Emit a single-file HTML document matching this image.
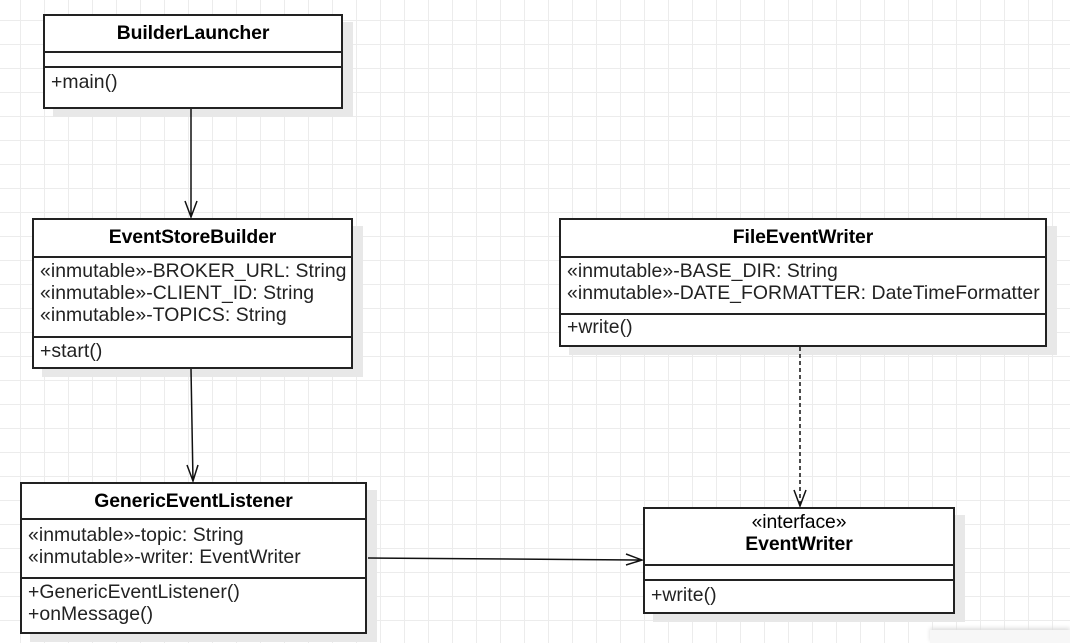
<!DOCTYPE html>
<html><head><style>
body{margin:0;width:1070px;height:643px;overflow:hidden;background:#fff;
background-image:linear-gradient(#ececec 1px,transparent 1px),linear-gradient(90deg,#ececec 1px,transparent 1px);
background-size:24px 24px;background-position:-4px -4px;font-family:"Liberation Sans",sans-serif;position:relative}
.b{position:absolute;border:2px solid #222;background:#fff;box-shadow:10px 8px 0 #e8e8e8;box-sizing:border-box}
.h{border-bottom:2px solid #222;text-align:center;font-weight:bold;font-size:19.4px;box-sizing:border-box;letter-spacing:-0.1px}
.s{border-bottom:2px solid #222;box-sizing:border-box;font-size:19.4px;padding-left:6px;line-height:22px;color:#222;letter-spacing:0.05px;white-space:nowrap}
.m{font-size:19.4px;padding-left:6px;line-height:22px;color:#222;letter-spacing:0.05px}
svg{position:absolute;left:0;top:0}
</style></head><body>
<div class="b" style="left:43px;top:14px;width:300px;height:95px">
<div class="h" style="height:37px;line-height:35px">BuilderLauncher</div>
<div class="s" style="height:15px"></div>
<div class="m" style="padding-top:3px">+main()</div></div>

<div class="b" style="left:32px;top:218px;width:321px;height:151px">
<div class="h" style="height:38px;line-height:35px">EventStoreBuilder</div>
<div class="s" style="height:80px;padding-top:2px">«inmutable»-BROKER_URL: String<br>«inmutable»-CLIENT_ID: String<br>«inmutable»-TOPICS: String</div>
<div class="m" style="padding-top:2px">+start()</div></div>

<div class="b" style="left:559px;top:218px;width:488px;height:129px">
<div class="h" style="height:38px;line-height:35px">FileEventWriter</div>
<div class="s" style="height:57px;padding-top:2px">«inmutable»-BASE_DIR: String<br>«inmutable»-DATE_FORMATTER: DateTimeFormatter</div>
<div class="m" style="padding-top:1px">+write()</div></div>

<div class="b" style="left:20px;top:482px;width:347px;height:152px">
<div class="h" style="height:36px;line-height:35px">GenericEventListener</div>
<div class="s" style="height:59px;padding-top:4px">«inmutable»-topic: String<br>«inmutable»-writer: EventWriter</div>
<div class="m" style="padding-top:2px">+GenericEventListener()<br>+onMessage()</div></div>

<div class="b" style="left:643px;top:507px;width:312px;height:107px">
<div class="h" style="height:57px;padding-top:2px;line-height:22px"><span style="font-weight:normal">«interface»</span><br>EventWriter</div>
<div class="s" style="height:15px"></div>
<div class="m" style="padding-top:3px">+write()</div></div>

<div style="position:absolute;left:930px;top:630px;width:140px;height:13px;background:#f7f7f7;box-shadow:0 -2px 4px #ddd"></div>

<svg width="1070" height="643" fill="none" stroke="#111" stroke-width="1.5">
<path d="M191 109V217M185 201l6 16 6-16"/>
<path d="M191 369L193 481M187 465l6 16 5-16"/>
<path d="M368 558L642 560M626 554l16 6-16 5"/>
<path d="M800 347V506" stroke-dasharray="4 3"/>
<path d="M794 490l6 16 6-16"/>
</svg>
</body></html>
